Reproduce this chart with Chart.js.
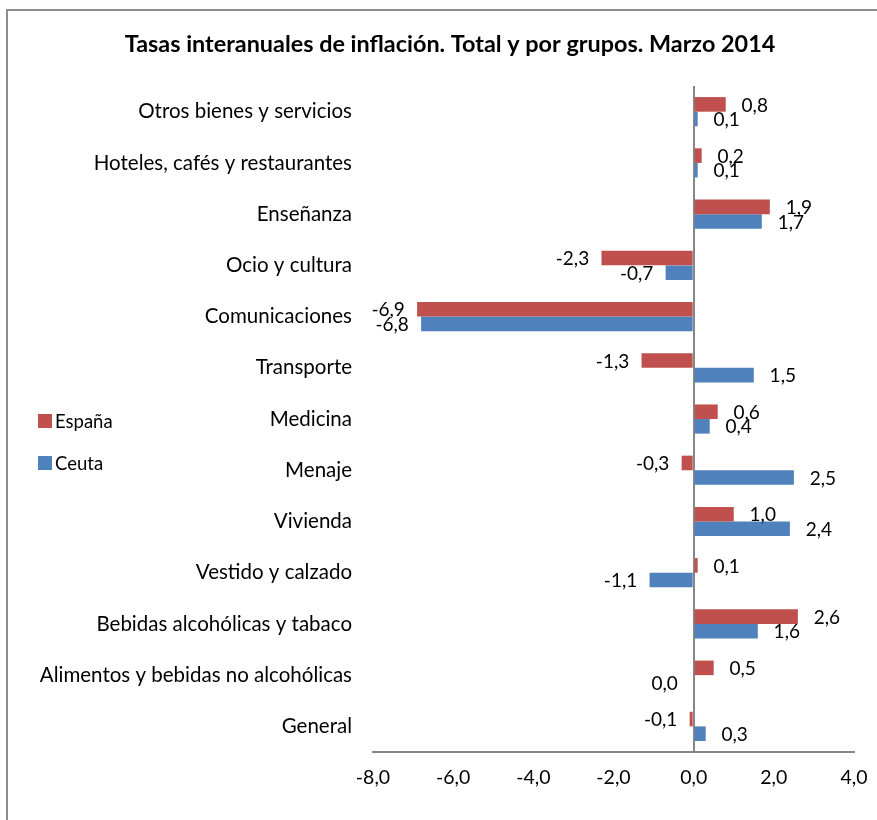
<!DOCTYPE html>
<html>
<head>
<meta charset="utf-8">
<script src="https://cdn.jsdelivr.net/npm/chart.js@4"></script>
<style>
    html, body { margin: 0; background: #fff; overflow: hidden; }
</style>
</head>
<body>
<canvas id="grafico" width="877" height="820"></canvas>
<script>
const categorias = [
    "Otros bienes y servicios",
    "Hoteles, cafés y restaurantes",
    "Enseñanza",
    "Ocio y cultura",
    "Comunicaciones",
    "Transporte",
    "Medicina",
    "Menaje",
    "Vivienda",
    "Vestido y calzado",
    "Bebidas alcohólicas y tabaco",
    "Alimentos y bebidas no alcohólicas",
    "General"
];
const espana = [0.8, 0.2, 1.9, -2.3, -6.9, -1.3, 0.6, -0.3, 1.0, 0.1, 2.6, 0.5, -0.1];
const ceuta  = [0.1, 0.1, 1.7, -0.7, -6.8, 1.5, 0.4, 2.5, 2.4, -1.1, 1.6, 0.0, 0.3];
const ticksX = [-8, -6, -4, -2, 0, 2, 4];

const FUENTE = "Lato, 'Open Sans', sans-serif";
const fmt = v => v.toFixed(1).replace(".", ",");

/* ------------------------------
   Marco gris (solo arriba e izquierda)
-------------------------------*/
const marco = {
    id: "marco",
    beforeDraw(chart) {
        const ctx = chart.ctx;
        ctx.save();
        ctx.strokeStyle = "#8c8c8c";
        ctx.lineWidth = 2;
        ctx.beginPath();
        ctx.moveTo(7, chart.height);
        ctx.lineTo(7, 10);
        ctx.lineTo(chart.width, 10);
        ctx.stroke();
        ctx.restore();
    }
};

/* ------------------------------
   Etiquetas de valor en las barras
-------------------------------*/
const etiquetas = {
    id: "etiquetas",
    afterDatasetsDraw(chart) {
        const ctx = chart.ctx;
        ctx.save();
        ctx.font = "19px " + FUENTE;
        ctx.fillStyle = "#000";
        ctx.textAlign = "center";
        ctx.textBaseline = "middle";
        chart.data.datasets.forEach((ds, i) => {
            chart.getDatasetMeta(i).data.forEach((bar, j) => {
                const v = ds.data[j];
                const x = bar.x + (v > 0 ? 29 : -29);
                ctx.fillText(fmt(v), x, bar.y + 1);
            });
        });
        ctx.restore();
    }
};

/* ------------------------------
   Leyenda a la izquierda
-------------------------------*/
const leyenda = {
    id: "leyenda",
    afterDraw(chart) {
        const ctx = chart.ctx;
        ctx.save();
        ctx.font = "18.5px " + FUENTE;
        ctx.textBaseline = "middle";
        chart.data.datasets.forEach((ds, i) => {
            const y = 421 + i * 42;
            ctx.fillStyle = ds.backgroundColor;
            ctx.fillRect(38, y - 7, 14, 14);
            ctx.fillStyle = "#000";
            ctx.fillText(ds.label, 55, y + 1);
        });
        ctx.restore();
    }
};

new Chart(document.getElementById("grafico"), {
    type: "bar",
    data: {
        labels: categorias,
        datasets: [
            { label: "España", data: espana, backgroundColor: "#C0504D" },
            { label: "Ceuta", data: ceuta, backgroundColor: "#4F81BD" }
        ]
    },
    options: {
        indexAxis: "y",
        responsive: false,
        animation: false,
        categoryPercentage: 0.57,
        barPercentage: 1,
        layout: { padding: { left: 23, right: 0, top: 0, bottom: 0 } },
        plugins: {
            legend: { display: false },
            tooltip: { enabled: false },
            title: {
                display: true,
                text: "Tasas interanuales de inflación. Total y por grupos. Marzo 2014",
                color: "#000",
                font: { family: FUENTE, size: 23.4, weight: "bold" },
                padding: { top: 30, bottom: 28 }
            }
        },
        scales: {
            x: {
                min: -8,
                max: 4,
                afterBuildTicks: s => { s.ticks = ticksX.map(v => ({ value: v })); },
                afterFit: s => { s.height = 68; s.paddingRight = 23; },
                ticks: {
                    color: "#000",
                    padding: 14,
                    font: { family: FUENTE, size: 19.5 },
                    callback: v => fmt(v)
                },
                grid: {
                    drawTicks: false,
                    lineWidth: 2,
                    color: c => (c.tick && c.tick.value === 0 ? "#868686" : "rgba(0,0,0,0)")
                },
                border: { display: true, color: "#868686", width: 2 }
            },
            y: {
                afterFit: s => { s.width = 350; },
                ticks: {
                    color: "#000",
                    padding: 21,
                    font: { family: FUENTE, size: 20.5 }
                },
                grid: { display: false, drawTicks: false },
                border: { display: false }
            }
        }
    },
    plugins: [marco, etiquetas, leyenda]
});
</script>
</body>
</html>
